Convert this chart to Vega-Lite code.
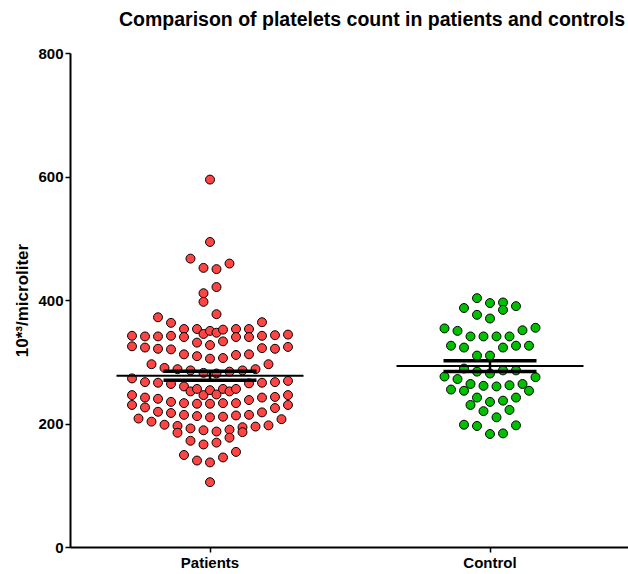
{
  "$schema": "https://vega.github.io/schema/vega-lite/v6.json",
  "width": 560,
  "height": 494,
  "autosize": {"type": "none"},
  "padding": {"left": 70, "top": 53, "right": 0, "bottom": 27},
  "background": "white",
  "title": {
    "text": "Comparison of platelets count in patients and controls",
    "font": "Liberation Sans",
    "fontSize": 19.5,
    "fontWeight": "bold",
    "color": "black",
    "anchor": "middle",
    "dx": 22,
    "offset": 16
  },
  "config": {
    "view": {"stroke": null},
    "axis": {
      "labelFont": "Liberation Sans",
      "titleFont": "Liberation Sans",
      "labelFontWeight": "bold",
      "titleFontWeight": "bold",
      "labelColor": "black",
      "titleColor": "black",
      "domainColor": "black",
      "tickColor": "black",
      "grid": false
    }
  },
  "data": {
    "values": [
      {"g": "Patients", "s": 0, "v": 595},
      {"g": "Patients", "s": 0, "v": 494},
      {"g": "Patients", "s": -1.5, "v": 467},
      {"g": "Patients", "s": -0.5, "v": 452},
      {"g": "Patients", "s": 0.5, "v": 450},
      {"g": "Patients", "s": 1.5, "v": 459},
      {"g": "Patients", "s": 0.5, "v": 421},
      {"g": "Patients", "s": -0.5, "v": 411},
      {"g": "Patients", "s": -0.5, "v": 397},
      {"g": "Patients", "s": 0.5, "v": 377},
      {"g": "Patients", "s": -4, "v": 372},
      {"g": "Patients", "s": -3, "v": 363},
      {"g": "Patients", "s": 4, "v": 364},
      {"g": "Patients", "s": -2, "v": 353},
      {"g": "Patients", "s": -1, "v": 353},
      {"g": "Patients", "s": -0.5, "v": 345},
      {"g": "Patients", "s": 0, "v": 350},
      {"g": "Patients", "s": 0.5, "v": 347},
      {"g": "Patients", "s": 1, "v": 352},
      {"g": "Patients", "s": 2, "v": 353},
      {"g": "Patients", "s": 3, "v": 353},
      {"g": "Patients", "s": -6, "v": 342},
      {"g": "Patients", "s": -5, "v": 341},
      {"g": "Patients", "s": -4, "v": 341},
      {"g": "Patients", "s": -3, "v": 342},
      {"g": "Patients", "s": -2, "v": 340},
      {"g": "Patients", "s": -1, "v": 331},
      {"g": "Patients", "s": 0, "v": 327},
      {"g": "Patients", "s": 1, "v": 333},
      {"g": "Patients", "s": 2, "v": 340},
      {"g": "Patients", "s": 3, "v": 340},
      {"g": "Patients", "s": 4, "v": 342},
      {"g": "Patients", "s": 5, "v": 343},
      {"g": "Patients", "s": 6, "v": 344},
      {"g": "Patients", "s": -6, "v": 325},
      {"g": "Patients", "s": -5, "v": 323},
      {"g": "Patients", "s": -4, "v": 321},
      {"g": "Patients", "s": -3, "v": 320},
      {"g": "Patients", "s": 4, "v": 322},
      {"g": "Patients", "s": 5, "v": 321},
      {"g": "Patients", "s": 6, "v": 324},
      {"g": "Patients", "s": -2, "v": 312},
      {"g": "Patients", "s": -1, "v": 309},
      {"g": "Patients", "s": 0, "v": 305},
      {"g": "Patients", "s": 1, "v": 306},
      {"g": "Patients", "s": 2, "v": 311},
      {"g": "Patients", "s": 3, "v": 312},
      {"g": "Patients", "s": -4.5, "v": 296},
      {"g": "Patients", "s": -3.5, "v": 290},
      {"g": "Patients", "s": -2.5, "v": 288},
      {"g": "Patients", "s": -1.5, "v": 286},
      {"g": "Patients", "s": -0.5, "v": 282},
      {"g": "Patients", "s": 0.5, "v": 281},
      {"g": "Patients", "s": 1.5, "v": 284},
      {"g": "Patients", "s": 2.5, "v": 286},
      {"g": "Patients", "s": 3.5, "v": 288},
      {"g": "Patients", "s": 4.5, "v": 296},
      {"g": "Patients", "s": -6, "v": 273},
      {"g": "Patients", "s": -5, "v": 267},
      {"g": "Patients", "s": -4, "v": 266},
      {"g": "Patients", "s": -3, "v": 264},
      {"g": "Patients", "s": 3, "v": 265},
      {"g": "Patients", "s": 4, "v": 266},
      {"g": "Patients", "s": 5, "v": 267},
      {"g": "Patients", "s": 6, "v": 269},
      {"g": "Patients", "s": -2, "v": 260},
      {"g": "Patients", "s": -1.5, "v": 252},
      {"g": "Patients", "s": -1, "v": 256},
      {"g": "Patients", "s": -0.5, "v": 246},
      {"g": "Patients", "s": 0, "v": 254},
      {"g": "Patients", "s": 0.5, "v": 247},
      {"g": "Patients", "s": 1, "v": 256},
      {"g": "Patients", "s": 1.5, "v": 252},
      {"g": "Patients", "s": 2, "v": 256},
      {"g": "Patients", "s": -6, "v": 246},
      {"g": "Patients", "s": -5, "v": 242},
      {"g": "Patients", "s": -4, "v": 240},
      {"g": "Patients", "s": -3, "v": 235},
      {"g": "Patients", "s": -2, "v": 233},
      {"g": "Patients", "s": -1, "v": 232},
      {"g": "Patients", "s": 0, "v": 232},
      {"g": "Patients", "s": 1, "v": 233},
      {"g": "Patients", "s": 2, "v": 233},
      {"g": "Patients", "s": 3, "v": 238},
      {"g": "Patients", "s": 4, "v": 242},
      {"g": "Patients", "s": 5, "v": 243},
      {"g": "Patients", "s": 6, "v": 246},
      {"g": "Patients", "s": -6, "v": 230},
      {"g": "Patients", "s": -5, "v": 226},
      {"g": "Patients", "s": -4, "v": 219},
      {"g": "Patients", "s": -3, "v": 217},
      {"g": "Patients", "s": -2, "v": 214},
      {"g": "Patients", "s": -1, "v": 212},
      {"g": "Patients", "s": 0, "v": 210},
      {"g": "Patients", "s": 1, "v": 211},
      {"g": "Patients", "s": 2, "v": 213},
      {"g": "Patients", "s": 3, "v": 214},
      {"g": "Patients", "s": 4, "v": 218},
      {"g": "Patients", "s": 5, "v": 225},
      {"g": "Patients", "s": 6, "v": 230},
      {"g": "Patients", "s": -5.5, "v": 208},
      {"g": "Patients", "s": -4.5, "v": 203},
      {"g": "Patients", "s": -3.5, "v": 198},
      {"g": "Patients", "s": -2.5, "v": 196},
      {"g": "Patients", "s": -1.5, "v": 192},
      {"g": "Patients", "s": -0.5, "v": 189},
      {"g": "Patients", "s": 0.5, "v": 187},
      {"g": "Patients", "s": 1.5, "v": 190},
      {"g": "Patients", "s": 2.5, "v": 194},
      {"g": "Patients", "s": 3.5, "v": 195},
      {"g": "Patients", "s": 4.5, "v": 197},
      {"g": "Patients", "s": 5.5, "v": 207},
      {"g": "Patients", "s": -2.5, "v": 185},
      {"g": "Patients", "s": 2.5, "v": 186},
      {"g": "Patients", "s": -1.5, "v": 172},
      {"g": "Patients", "s": -0.5, "v": 166},
      {"g": "Patients", "s": 0.5, "v": 169},
      {"g": "Patients", "s": 1.5, "v": 177},
      {"g": "Patients", "s": -2, "v": 149},
      {"g": "Patients", "s": -1, "v": 140},
      {"g": "Patients", "s": 0, "v": 137},
      {"g": "Patients", "s": 1, "v": 145},
      {"g": "Patients", "s": 2, "v": 154},
      {"g": "Patients", "s": 0, "v": 105},
      {"g": "Control", "s": -1, "v": 403},
      {"g": "Control", "s": -2, "v": 387},
      {"g": "Control", "s": 0, "v": 395},
      {"g": "Control", "s": 1, "v": 396},
      {"g": "Control", "s": 1, "v": 384},
      {"g": "Control", "s": 2, "v": 390},
      {"g": "Control", "s": -1, "v": 376},
      {"g": "Control", "s": 0, "v": 370},
      {"g": "Control", "s": -3.5, "v": 354},
      {"g": "Control", "s": -2.5, "v": 350},
      {"g": "Control", "s": -1.5, "v": 341},
      {"g": "Control", "s": -0.5, "v": 341},
      {"g": "Control", "s": 0.5, "v": 341},
      {"g": "Control", "s": 1.5, "v": 341},
      {"g": "Control", "s": 2.5, "v": 351},
      {"g": "Control", "s": 3.5, "v": 355},
      {"g": "Control", "s": -3, "v": 326},
      {"g": "Control", "s": -2, "v": 323},
      {"g": "Control", "s": 1, "v": 323},
      {"g": "Control", "s": 2, "v": 326},
      {"g": "Control", "s": 3, "v": 326},
      {"g": "Control", "s": -1, "v": 310},
      {"g": "Control", "s": 0, "v": 310},
      {"g": "Control", "s": -2, "v": 289},
      {"g": "Control", "s": -1, "v": 284},
      {"g": "Control", "s": 0, "v": 281},
      {"g": "Control", "s": 1, "v": 286},
      {"g": "Control", "s": 2, "v": 286},
      {"g": "Control", "s": -3.5, "v": 276},
      {"g": "Control", "s": -2.5, "v": 272},
      {"g": "Control", "s": 3.5, "v": 275},
      {"g": "Control", "s": -1.5, "v": 264},
      {"g": "Control", "s": -0.5, "v": 261},
      {"g": "Control", "s": 0.5, "v": 260},
      {"g": "Control", "s": 1.5, "v": 262},
      {"g": "Control", "s": 2.5, "v": 264},
      {"g": "Control", "s": -3, "v": 255},
      {"g": "Control", "s": -2, "v": 253},
      {"g": "Control", "s": 3, "v": 253},
      {"g": "Control", "s": -1, "v": 242},
      {"g": "Control", "s": 2, "v": 242},
      {"g": "Control", "s": -1.5, "v": 230},
      {"g": "Control", "s": 0, "v": 235},
      {"g": "Control", "s": 1, "v": 237},
      {"g": "Control", "s": -0.5, "v": 220},
      {"g": "Control", "s": 1.5, "v": 222},
      {"g": "Control", "s": 0.5, "v": 210},
      {"g": "Control", "s": -2, "v": 198},
      {"g": "Control", "s": -1, "v": 196},
      {"g": "Control", "s": 2, "v": 197},
      {"g": "Control", "s": 0, "v": 183},
      {"g": "Control", "s": 1, "v": 184}
    ]
  },
  "encoding": {
    "x": {
      "field": "g",
      "type": "nominal",
      "sort": ["Patients", "Control"],
      "scale": {"type": "band", "paddingInner": 0, "paddingOuter": 0},
      "axis": {
        "title": null,
        "labelAngle": 0,
        "labelFontSize": 15,
        "labelPadding": 3,
        "tickSize": 5,
        "domainWidth": 2,
        "tickWidth": 1.5,
        "bandPosition": 0.5
      }
    }
  },
  "layer": [
    {
      "mark": {"type": "circle", "size": 80, "opacity": 1, "stroke": "black", "strokeWidth": 1},
      "encoding": {
        "xOffset": {"field": "s", "type": "quantitative", "scale": {"domain": [-10.77, 10.77]}},
        "y": {
          "field": "v",
          "type": "quantitative",
          "title": "10*³/microliter",
          "scale": {"domain": [0, 800], "nice": false},
          "axis": {
            "titleFontSize": 17,
            "titlePadding": 6,
            "labelFontSize": 15,
            "labelPadding": 2,
            "values": [0, 200, 400, 600, 800],
            "tickSize": 5,
            "tickWidth": 1.5,
            "domainWidth": 2
          }
        },
        "color": {
          "field": "g",
          "type": "nominal",
          "scale": {"domain": ["Patients", "Control"], "range": ["#ff4444", "#00c000"]},
          "legend": null
        }
      }
    },
    {
      "mark": {"type": "tick", "size": 187, "thickness": 2, "color": "black", "opacity": 1},
      "encoding": {
        "y": {"aggregate": "mean", "field": "v", "type": "quantitative", "title": "10*³/microliter"}
      }
    },
    {
      "mark": {
        "type": "errorbar",
        "extent": "stderr",
        "color": "black",
        "opacity": 1,
        "ticks": {"size": 93, "thickness": 3.5, "color": "black", "opacity": 1},
        "rule": {"strokeWidth": 2.5, "color": "black", "opacity": 1}
      },
      "encoding": {
        "y": {"field": "v", "type": "quantitative", "title": "10*³/microliter"}
      }
    }
  ]
}
